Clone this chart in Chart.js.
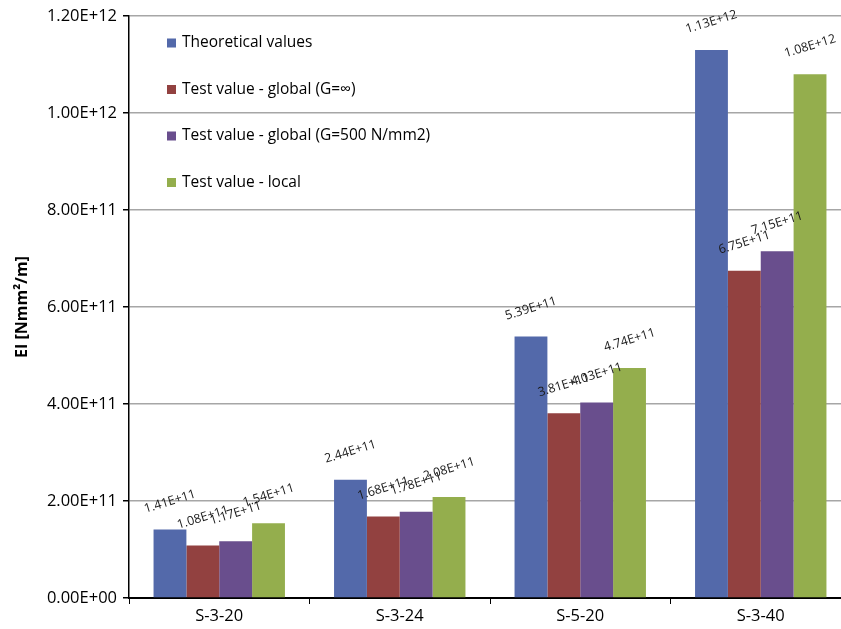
<!DOCTYPE html>
<html>
<head>
<meta charset="utf-8">
<script src="https://cdnjs.cloudflare.com/ajax/libs/Chart.js/4.4.1/chart.umd.min.js"></script>
<style>
  html, body { margin: 0; padding: 0; background: #fff; overflow: hidden; }
  #wrap { width: 853px; height: 629px; }
</style>
</head>
<body>
<div id="wrap"><canvas id="grafico"></canvas></div>
<script>
var categorias = ["S-3-20", "S-3-24", "S-5-20", "S-3-40"];
var series = ["Theoretical values", "Test value - global (G=\u221e)", "Test value - global (G=500 N/mm2)", "Test value - local"];
var teoricos = [1.41e11, 2.44e11, 5.39e11, 1.13e12];
var globalInf = [1.08e11, 1.68e11, 3.81e11, 6.75e11];
var global500 = [1.17e11, 1.78e11, 4.03e11, 7.15e11];
var local = [1.54e11, 2.08e11, 4.74e11, 1.08e12];
var colores = ["#5369aa", "#924140", "#694e8d", "#94ae4d"];
var fuente = "'Open Sans', 'Noto Sans', sans-serif";

// formato tipo Excel: 1.20E+12, 0.00E+00
function formatoE(v) {
    var s = Number(v).toExponential(2).toUpperCase();
    var partes = s.split("E");
    var exp = partes[1];
    var signo = exp.charAt(0);
    var num = exp.substring(1);
    if (num.length < 2) num = "0" + num;
    return partes[0] + "E" + signo + num;
}

var etiquetasBarras = {
    id: "etiquetasBarras",
    afterDatasetsDraw: function (chart) {
        var ctx = chart.ctx;
        ctx.save();
        ctx.font = "12.5px " + fuente;
        ctx.fillStyle = "#1a1a1a";
        ctx.textAlign = "center";
        ctx.textBaseline = "middle";
        chart.data.datasets.forEach(function (ds, i) {
            var meta = chart.getDatasetMeta(i);
            meta.data.forEach(function (bar, j) {
                ctx.save();
                ctx.translate(bar.x, bar.y - 28);
                ctx.rotate(-17 * Math.PI / 180);
                ctx.fillText(formatoE(ds.data[j]), 0, 0);
                ctx.restore();
            });
        });
        ctx.restore();
    }
};

var leyenda = {
    id: "leyenda",
    afterDraw: function (chart) {
        var ctx = chart.ctx;
        var area = chart.chartArea;
        ctx.save();
        ctx.font = "15.5px " + fuente;
        ctx.textBaseline = "middle";
        ctx.textAlign = "left";
        chart.data.datasets.forEach(function (ds, i) {
            var y = area.top + 27 + i * 46.5;
            var x = area.left + 38;
            ctx.fillStyle = ds.backgroundColor;
            ctx.fillRect(x, y - 4.5, 9, 9);
            ctx.fillStyle = "#000";
            ctx.fillText(ds.label, x + 15, y);
        });
        ctx.restore();
    }
};

var ctx = document.getElementById("grafico").getContext("2d");
new Chart(ctx, {
    type: "bar",
    data: {
        labels: categorias,
        datasets: [
            { label: series[0], data: teoricos, backgroundColor: colores[0] },
            { label: series[1], data: globalInf, backgroundColor: colores[1] },
            { label: series[2], data: global500, backgroundColor: colores[2] },
            { label: series[3], data: local, backgroundColor: colores[3] }
        ]
    },
    options: {
        responsive: true,
        maintainAspectRatio: false,
        animation: false,
        layout: { padding: { top: 16, right: 2, left: 0, bottom: 0 } },
        datasets: { bar: { categoryPercentage: 0.728, barPercentage: 1 } },
        plugins: {
            legend: { display: false },
            tooltip: { enabled: false }
        },
        scales: {
            x: {
                grid: { display: true, drawOnChartArea: false, color: "#000", tickLength: 6, offset: true },
                border: { color: "#000", width: 2 },
                ticks: { font: { family: fuente, size: 16.5 }, color: "#000", padding: 2 },
                afterFit: function (s) { s.height = 31; }
            },
            y: {
                min: 0,
                max: 1.2e12,
                ticks: {
                    stepSize: 2e11,
                    font: { family: fuente, size: 16.5 },
                    color: "#000",
                    padding: 6,
                    callback: function (v) { return formatoE(v); }
                },
                grid: { color: "#a6a6a6", lineWidth: 1.5, tickColor: "#000", tickLength: 6 },
                border: { color: "#000", width: 1.5 },
                title: {
                    display: true,
                    text: "EI [Nmm\u00b2/m]",
                    font: { family: fuente, size: 16, weight: "bold" },
                    color: "#000",
                    padding: { top: 13, bottom: 0 }
                },
                afterFit: function (s) { s.width = 129; }
            }
        }
    },
    plugins: [etiquetasBarras, leyenda]
});
</script>
</body>
</html>
